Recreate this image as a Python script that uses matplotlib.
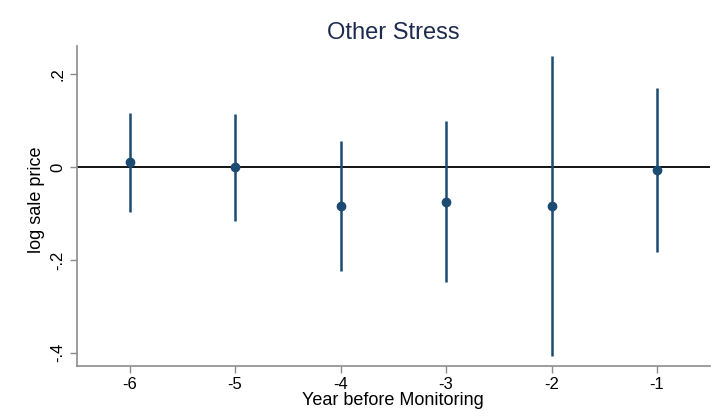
import matplotlib
matplotlib.use("Agg")
import matplotlib.pyplot as plt
import numpy as np

# coefficient estimates with 95% CI
years = [-6, -5, -4, -3, -2, -1]
coef = [0.011, 0.0, -0.083, -0.075, -0.083, -0.006]
ci_low = [-0.096, -0.116, -0.223, -0.248, -0.406, -0.183]
ci_high = [0.116, 0.114, 0.056, 0.099, 0.239, 0.170]

y_ticks = [0.2, 0.0, -0.2, -0.4]
y_tick_labels = [".2", "0", "-.2", "-.4"]

plt.rcParams["font.family"] = ["Liberation Sans", "DejaVu Sans"]

NAVY = "#1b4a72"
GRAY = "#8c8c8c"

fig = plt.figure(figsize=(7.25, 4.2), dpi=100)
ax = fig.add_axes([0.106, 0.129, 0.873, 0.761])

ax.axhline(0, color="black", linewidth=1.3, zorder=1)

ax.vlines(years, ci_low, ci_high, color=NAVY, linewidth=1.8, zorder=2)
ax.plot(years, coef, "o", color=NAVY, markersize=6, zorder=3)

ax.set_xlim(-6.5, -0.5)
ax.set_ylim(-0.428, 0.26)

ax.set_xticks(years)
ax.set_xticklabels([str(y) for y in years], fontsize=12)
ax.set_yticks(y_ticks)
ax.set_yticklabels(y_tick_labels, fontsize=12, rotation=90, va="center")

for side in ["top", "right"]:
    ax.spines[side].set_visible(False)
for side in ["left", "bottom"]:
    ax.spines[side].set_color(GRAY)
    ax.spines[side].set_linewidth(1.2)
ax.tick_params(axis="both", color=GRAY, length=5, width=1, pad=3)

ax.set_xlabel("Year before Monitoring", fontsize=13, labelpad=0)
ax.set_ylabel("log sale price", fontsize=13)
ax.yaxis.set_label_coords(-0.05, 0.52)
ax.set_title("Other Stress", fontsize=17, color="#1c2b4f", pad=5)

fig.savefig("out.png", dpi=100, facecolor="white")
